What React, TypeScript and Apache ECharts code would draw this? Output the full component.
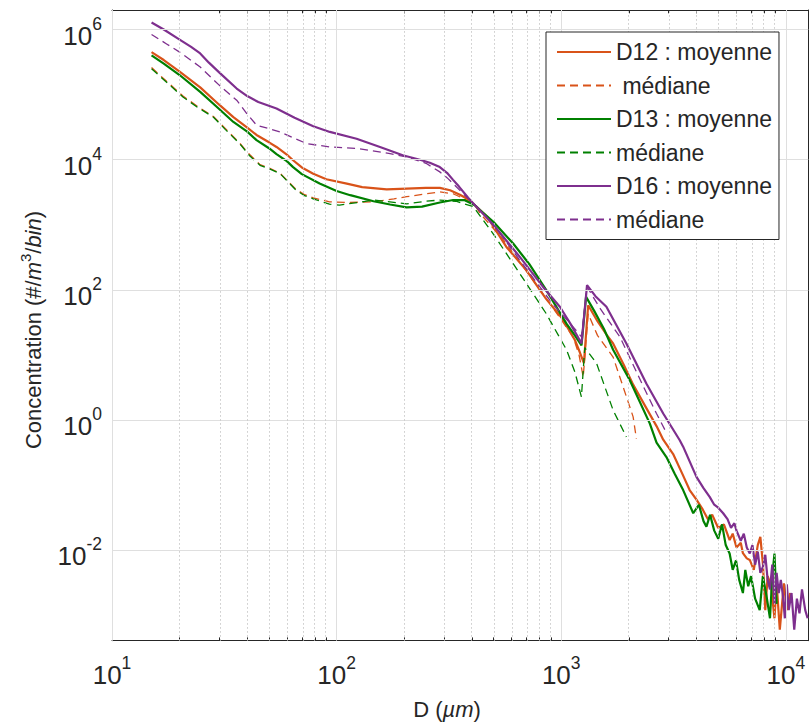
import React, { useEffect, useRef } from 'react';
import * as echarts from 'echarts';

// ---- data: [D (µm), concentration (#/m3/bin)] ----
const d12Mean: [number, number][] = [
  [15, 4.5e5], [17, 3.4e5], [20, 2.25e5], [24.7, 1.29e5], [30, 7.0e4], [34.7, 4.5e4], [40, 3.1e4], [44, 2.4e4],
  [50, 1.85e4], [54, 1.57e4], [60, 1.2e4], [64, 9.8e3], [70, 7.6e3], [78.7, 6.1e3], [90, 5.0e3], [111, 4.3e3],
  [130, 3.8e3], [167, 3.5e3], [205, 3.6e3], [250, 3.7e3], [288, 3.7e3], [320, 3.4e3], [354, 2.9e3], [390, 2.4e3],
  [413, 2.0e3], [470, 1.3e3], [570, 457], [700, 200], [803, 100], [858, 72], [1000, 38], [1057, 28], [1150, 17],
  [1210, 11], [1262, 7.5], [1318, 58], [1450, 33], [1600, 20], [1702, 15], [1900, 7], [2090, 3.5], [2400, 1.5],
  [2660, 0.8], [2845, 0.5], [3150, 0.3], [3490, 0.14], [3730, 0.084], [4000, 0.06], [4270, 0.042], [4500, 0.03],
  [4700, 0.035], [5000, 0.022], [5300, 0.025], [5620, 0.0143], [5800, 0.018], [6030, 0.011], [6300, 0.013],
  [6440, 0.009], [6700, 0.0075], [6910, 0.0071], [7200, 0.005], [7500, 0.012], [7700, 0.016], [7910, 0.006],
  [8100, 0.0012], [8300, 0.004], [8600, 0.0028], [8900, 0.0009], [9100, 0.0031], [9400, 0.0006], [9800, 0.0031],
  [10100, 0.0012], [10450, 0.0022],
];
const d12Median: [number, number][] = [
  [15, 2.6e5], [17.5, 1.6e5], [20.7, 9.5e4], [24, 6.6e4], [28.3, 4.6e4], [32, 3.0e4], [37, 1.8e4], [41, 1.2e4],
  [45.6, 8.4e3], [50, 7.5e3], [56, 6.2e3], [61, 4.6e3], [66, 3.5e3], [72, 2.9e3], [78.7, 2.6e3], [93, 2.25e3],
  [110, 2.2e3], [146, 2.25e3], [180, 2.5e3], [205, 2.7e3], [250, 3.0e3], [288, 3.2e3], [330, 3.0e3], [370, 2.5e3],
  [413, 2.0e3], [435, 1.5e3], [550, 600], [678, 225], [890, 62], [1130, 19], [1200, 10], [1253, 4.6], [1318, 43],
  [1450, 20], [1702, 9.3], [1900, 3.0], [2090, 1.12], [2160, 0.52],
];
const d13Mean: [number, number][] = [
  [15, 4.0e5], [17, 3.0e5], [20, 2.0e5], [24.7, 1.1e5], [30, 6.0e4], [34.7, 3.8e4], [40, 2.7e4], [44, 2.0e4],
  [50, 1.5e4], [54, 1.22e4], [60, 9.5e3], [64, 7.7e3], [70, 6.0e3], [84, 4.3e3], [100, 3.3e3], [115, 2.85e3],
  [146, 2.3e3], [173, 2.05e3], [205, 1.85e3], [240, 1.9e3], [288, 2.2e3], [330, 2.4e3], [370, 2.4e3], [413, 2.0e3],
  [435, 1.68e3], [500, 1.1e3], [611, 515], [720, 250], [858, 99], [1057, 30], [1150, 20], [1231, 14], [1290, 78],
  [1400, 48], [1550, 25], [1702, 12], [2020, 4.1], [2478, 0.89], [2657, 0.45], [2940, 0.27], [3200, 0.15],
  [3490, 0.084], [3870, 0.037], [4100, 0.05], [4300, 0.028], [4430, 0.023], [4600, 0.035], [4800, 0.02],
  [5000, 0.015], [5200, 0.025], [5400, 0.012], [5620, 0.0089], [5800, 0.005], [6000, 0.007], [6200, 0.0035],
  [6440, 0.0022], [6600, 0.005], [6800, 0.0028], [7000, 0.004], [7300, 0.0018], [7650, 0.0012], [7900, 0.004],
  [8200, 0.002], [8500, 0.0009], [8700, 0.004], [8900, 0.0089], [9100, 0.0015],
];
const d13Median: [number, number][] = [
  [15, 2.5e5], [17.5, 1.55e5], [20.7, 9.2e4], [24, 6.4e4], [28.3, 4.5e4], [32, 2.9e4], [37, 1.77e4], [41, 1.15e4],
  [45.6, 8.2e3], [50, 7.3e3], [56, 6.1e3], [61, 4.5e3], [66, 3.4e3], [72, 2.8e3], [78.7, 2.5e3], [93, 2.07e3],
  [103, 2.0e3], [146, 2.4e3], [205, 2.1e3], [250, 2.3e3], [288, 2.4e3], [340, 2.3e3], [406, 1.9e3], [497, 734],
  [654, 178], [858, 43], [1057, 11.9], [1150, 5.5], [1230, 2.27], [1273, 13], [1437, 7.4], [1702, 1.42],
  [1950, 0.55],
];
const d16Mean: [number, number][] = [
  [15, 1.28e6], [17, 1.0e6], [20, 7.0e5], [22.5, 5.4e5], [24.7, 4.3e5], [27, 3.1e5], [30, 2.2e5], [35.9, 1.24e5],
  [40, 9.5e4], [44.8, 7.7e4], [54, 6.1e4], [65, 4.4e4], [78.7, 3.27e4], [93.3, 2.67e4], [122.7, 2.1e4],
  [156, 1.57e4], [197, 1.17e4], [235, 1.0e4], [260, 9.0e3], [288, 7.7e3], [310, 6.3e3], [330, 4.9e3],
  [350, 3.9e3], [385, 2.6e3], [413, 2.0e3], [460, 1.35e3], [515, 877], [654, 321], [830, 111],
  [986, 55], [1100, 30], [1231, 15], [1303, 118], [1420, 80], [1589, 55], [1950, 15], [2393, 3.65], [2845, 1.26],
  [3370, 0.49], [3490, 0.39], [4000, 0.134], [4300, 0.09], [4580, 0.066], [4800, 0.05], [5000, 0.045],
  [5260, 0.037], [5500, 0.03], [5700, 0.022], [5900, 0.026], [6030, 0.02], [6300, 0.014], [6500, 0.018],
  [6700, 0.011], [6910, 0.0089], [7100, 0.012], [7300, 0.006], [7500, 0.0095], [7700, 0.0045], [7910, 0.0056],
  [8100, 0.0085], [8300, 0.0035], [8500, 0.0025], [8700, 0.006], [8900, 0.0015], [9100, 0.0045], [9300, 0.0022],
  [9500, 0.0035], [9720, 0.0019], [9900, 0.0009], [10100, 0.003], [10300, 0.0012], [10600, 0.0022],
  [10900, 0.0006], [11200, 0.0018], [11500, 0.00107], [11800, 0.0025], [12200, 0.0012], [12500, 0.0009],
];
const d16Median: [number, number][] = [
  [15, 8.4e5], [17.5, 6.0e5], [20, 4.5e5], [24.7, 2.66e5], [30, 1.4e5], [35.9, 8.2e4], [40, 5.0e4], [44, 3.4e4],
  [56, 2.67e4], [73.5, 1.77e4], [93, 1.57e4], [123, 1.49e4], [173, 1.24e4], [205, 1.1e4], [250, 8.8e3],
  [288, 6.5e3], [310, 5.3e3], [330, 4.3e3], [370, 2.9e3], [413, 2.0e3], [500, 1.0e3], [654, 286], [912, 62],
  [1100, 30], [1231, 19], [1303, 111], [1500, 50], [1825, 19], [2300, 3.5], [2655, 1.26], [2900, 0.7],
];

const seriesNames = ['D12 : moyenne', 'D12 médiane', 'D13 : moyenne', 'D13 médiane', 'D16 : moyenne', 'D16 médiane'];
const legendLabels: Record<string, string> = {
  'D12 : moyenne': 'D12 : moyenne',
  'D12 médiane': '\u00a0médiane',
  'D13 : moyenne': 'D13 : moyenne',
  'D13 médiane': 'médiane',
  'D16 : moyenne': 'D16 : moyenne',
  'D16 médiane': 'médiane',
};

const xMajorExps = [1, 2, 3, 4];
const yMajorExps = [-2, 0, 2, 4, 6];
const xMinorValues = [20, 30, 40, 50, 60, 70, 80, 90, 200, 300, 400, 500, 600, 700, 800, 900,
  2000, 3000, 4000, 5000, 6000, 7000, 8000, 9000];

const ORANGE = '#D95319';
const GREEN = '#008000';
const PURPLE = '#7E2F8E';
const FONT = "'Liberation Sans', Arial, Helvetica, sans-serif";
const INK = '#262626';

const X_MIN = 1;
const X_MAX = 4.1;
const Y_MIN = -3.39;
const Y_MAX = 6.3;

const toLog = (pts: [number, number][]) => pts.map(([d, c]) => [Math.log10(d), Math.log10(c)]);
const xMinorExps = xMinorValues.map((v) => Math.log10(v));

const tickRich = {
  b: { fontSize: 26, lineHeight: 42, fontFamily: FONT, color: INK },
  s: { fontSize: 17.5, lineHeight: 17, verticalAlign: 'top', fontFamily: FONT, color: INK },
};
const tickFormatter = (v: number) => `{b|10}{s|${Math.round(v)}}`;

export default function App() {
  const ref = useRef<HTMLDivElement>(null);
  useEffect(() => {
    if (!ref.current) return;
    const chart = echarts.init(ref.current, undefined, { renderer: 'svg' });

    const baseX = { type: 'value', min: X_MIN, max: X_MAX, splitLine: { show: false } };
    const baseY = { type: 'value', min: Y_MIN, max: Y_MAX, splitLine: { show: false } };
    const lineAxis = { show: true, onZero: false, lineStyle: { color: INK, width: 1 } };
    const noLine = { show: false, onZero: false };

    const mk = (name: string, data: [number, number][], color: string, dashed: boolean) => ({
      name,
      type: 'line',
      data: toLog(data),
      showSymbol: false,
      symbol: 'none',
      xAxisIndex: 0,
      yAxisIndex: 0,
      itemStyle: { color },
      lineStyle: dashed ? { color, width: 1.3, type: [8, 5] } : { color, width: 2.2 },
      z: 3,
    });

    const option: any = {
      animation: false,
      backgroundColor: '#ffffff',
      grid: { left: 112, right: 1.7, top: 10, bottom: 84.3, containLabel: false },
      xAxis: [
        {
          ...baseX, position: 'bottom', axisLine: lineAxis,
          axisTick: { show: true, inside: true, length: 6.5, customValues: xMajorExps, lineStyle: { color: INK } },
          axisLabel: { customValues: xMajorExps, formatter: tickFormatter, rich: tickRich, margin: 13 },
        },
        {
          ...baseX, position: 'bottom', axisLine: noLine,
          axisTick: { show: true, inside: true, length: 3.3, customValues: xMinorExps, lineStyle: { color: INK } },
          axisLabel: { show: false },
        },
        {
          ...baseX, position: 'top', axisLine: lineAxis,
          axisTick: { show: true, inside: true, length: 6.5, customValues: xMajorExps, lineStyle: { color: INK } },
          axisLabel: { show: false },
        },
        {
          ...baseX, position: 'top', axisLine: noLine,
          axisTick: { show: true, inside: true, length: 3.3, customValues: xMinorExps, lineStyle: { color: INK } },
          axisLabel: { show: false },
        },
      ],
      yAxis: [
        {
          ...baseY, position: 'left', axisLine: lineAxis,
          axisTick: { show: true, inside: true, length: 6.5, customValues: yMajorExps, lineStyle: { color: INK } },
          axisLabel: { customValues: yMajorExps, formatter: tickFormatter, rich: tickRich, margin: 10, padding: [12, 0, 0, 0] },
        },
        {
          ...baseY, position: 'right', axisLine: lineAxis,
          axisTick: { show: true, inside: true, length: 6.5, customValues: yMajorExps, lineStyle: { color: INK } },
          axisLabel: { show: false },
        },
      ],
      legend: {
        data: seriesNames,
        orient: 'vertical',
        left: 546,
        top: 32,
        itemWidth: 54,
        itemHeight: 14,
        itemGap: 9.5,
        padding: [8, 7, 8, 10],
        borderColor: INK,
        borderWidth: 1,
        borderRadius: 0,
        backgroundColor: '#ffffff',
        selectedMode: false,
        itemStyle: { opacity: 0 },
        textStyle: { fontSize: 23, lineHeight: 24, fontFamily: FONT, color: INK },
        formatter: (n: string) => legendLabels[n],
        z: 10,
      },
      graphic: [
        {
          type: 'text',
          x: 33,
          y: 330,
          rotation: Math.PI / 2,
          style: {
            text: '{n|Concentration (#/}{i|m}{s|3}{n|/}{i|bin}{n|)}',
            align: 'center',
            verticalAlign: 'middle',
            fill: INK,
            rich: {
              n: { fontSize: 22, lineHeight: 30, fontFamily: FONT, fill: INK },
              i: { fontSize: 22, lineHeight: 30, fontFamily: FONT, fontStyle: 'italic', fill: INK },
              s: { fontSize: 15, lineHeight: 15, verticalAlign: 'top', fontFamily: FONT, fill: INK },
            },
          },
        },
        {
          type: 'text',
          x: 447,
          y: 709,
          style: {
            text: '{n|D (}{i|µm}{n|)}',
            align: 'center',
            verticalAlign: 'middle',
            fill: INK,
            rich: {
              n: { fontSize: 22, fontFamily: FONT, fill: INK },
              i: { fontSize: 22, fontFamily: FONT, fontStyle: 'italic', fill: INK },
            },
          },
        },
      ],
      series: [
        {
          name: 'gridMajor', type: 'line', data: [], z: 1, silent: true,
          markLine: {
            silent: true, symbol: ['none', 'none'], label: { show: false },
            lineStyle: { color: '#dfdfdf', width: 1, type: 'solid' },
            data: [...xMajorExps.map((v) => ({ xAxis: v })), ...yMajorExps.map((v) => ({ yAxis: v }))],
          },
        },
        {
          name: 'gridMinor', type: 'line', data: [], z: 1, silent: true,
          markLine: {
            silent: true, symbol: ['none', 'none'], label: { show: false },
            lineStyle: { color: '#c8c8c8', width: 1, type: [1.5, 2.5] },
            data: xMinorExps.map((v) => ({ xAxis: v })),
          },
        },
        mk('D12 : moyenne', d12Mean, ORANGE, false),
        mk('D12 médiane', d12Median, ORANGE, true),
        mk('D13 : moyenne', d13Mean, GREEN, false),
        mk('D13 médiane', d13Median, GREEN, true),
        mk('D16 : moyenne', d16Mean, PURPLE, false),
        mk('D16 médiane', d16Median, PURPLE, true),
      ],
    };
    chart.setOption(option);
    return () => chart.dispose();
  }, []);

  return (
    <div
      ref={ref}
      style={{ position: 'absolute', left: 0, top: 0, width: 810, height: 725, background: '#fff' }}
    />
  );
}
